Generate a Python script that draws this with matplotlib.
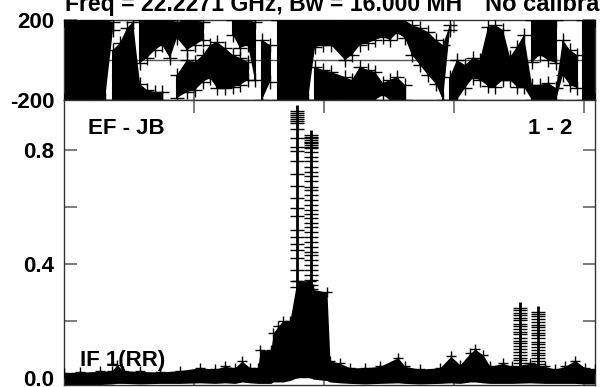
import matplotlib
matplotlib.use('Agg')
import matplotlib.pyplot as plt
import numpy as np

plt.rcParams['font.family'] = ['Liberation Sans', 'DejaVu Sans']
plt.rcParams['font.weight'] = 'bold'

nan = np.nan

# phase panel: channel, top band and second band (degrees), nan = empty
ph_ch = [0, 8.5, 16.2, 23.8, 31.5, 37.7, 43.1, 48.5, 53.1, 58.5,
         63.8, 70, 75.4, 81.5, 86.9, 94.6, 100.8, 106.9, 112.3, 117.7,
         123.8, 130, 135.4, 141.5, 146.9, 152.3, 158.5, 164.6, 170, 176.2,
         181.5, 187.7, 193.1, 199.2, 205.4, 216.2, 221.5, 227.7, 233.8, 239.2,
         245.4, 250.8, 256.2, 262.3, 267.7, 273.8, 280, 286.2, 291.5, 296.9,
         302.3, 308.5, 314.6, 320, 326.2, 331.5, 337.7, 343.1, 348.5, 353.8,
         360, 366.2, 372.3, 378.5, 383.8, 389.2, 394.6, 399.2, 404.6, 408.5]
ph_a_hi = [200, 200, 200, 200, 200, 190, nan, nan, nan, 200,
           200, 200, 200, 200, 190, 200, 200, 190, nan, nan,
           nan, 200, 200, 200, 190, nan, nan, 200, 200, 200,
           200, 200, 200, 200, 200, 200, 200, 200, 200, 200,
           200, 200, 200, 200, 175, 160, 140, 100, 75, 175,
           nan, nan, nan, nan, nan, nan, nan, nan, nan, nan,
           200, 200, 200, 200, nan, nan, nan, 200, 200, 200]
ph_a_lo = [-200, -200, -200, -200, -200, 150, nan, nan, nan, -15,
           10, 50, 75, 10, 110, 50, 75, 100, nan, nan,
           nan, 125, 60, 75, -100, nan, nan, -200, -200, -200,
           -200, -200, 65, 75, 75, 0, 25, 75, 85, 100,
           115, 100, 135, 110, 25, -25, -75, -120, -200, 150,
           nan, nan, nan, nan, nan, nan, nan, nan, nan, nan,
           -10, 25, 0, -15, nan, nan, nan, -200, -200, -200]
ph_b_hi = [nan, nan, nan, nan, nan, 50, 85, 160, 190, -120,
           -150, -160, -160, nan, -75, 0, -10, 25, 75, 90,
           60, 25, 10, -10, nan, 100, 75, nan, nan, nan,
           nan, nan, -35, -50, -60, -85, -100, -35, -50, -60,
           -115, -100, -85, -125, nan, nan, nan, nan, nan, -85,
           0, -25, 10, 0, 165, 175, 150, 15, 65, 125,
           -125, -125, -115, -140, 100, 50, 25, nan, nan, nan]
ph_b_lo = [nan, nan, nan, nan, nan, -200, -200, -200, -200, -200,
           -200, -200, -200, nan, -190, -160, -150, -110, -90, -140,
           -140, -135, -125, -100, nan, -200, -110, nan, nan, nan,
           nan, nan, -200, -200, -200, -200, -200, -200, -200, -200,
           -175, -200, -200, -200, nan, nan, nan, nan, nan, -200,
           -200, -140, -90, -100, -130, -135, -100, -100, -135, -135,
           -200, -200, -200, -200, -75, -125, -140, nan, nan, nan]

# amplitude panel: dense baseline band
am_ch = [0, 12.3, 27.7, 36.9, 40.8, 45.4, 58.5, 73.8, 89.2, 104.6,
         116.2, 123.8, 131.5, 136.9, 143.1, 149.2, 150.8, 159.2, 160.8, 164.6,
         168.5, 173.8, 179.2, 190, 191.5, 202.3, 204.6, 212.3, 220, 231.5,
         243.1, 256.9, 262.3, 273.8, 289.2, 297.7, 304.6, 312.3, 316.2, 322.3,
         327.7, 337.7, 344.6, 358.5, 370, 377.7, 385.4, 393.1, 400.8, 408.5]
am_hi = [0.018, 0.02, 0.022, 0.025, 0.045, 0.025, 0.022, 0.02, 0.025, 0.035,
         0.03, 0.04, 0.035, 0.058, 0.035, 0.035, 0.097, 0.097, 0.156, 0.18,
         0.2, 0.2, 0.34, 0.34, 0.31, 0.30, 0.06, 0.05, 0.035, 0.035,
         0.04, 0.07, 0.04, 0.03, 0.035, 0.075, 0.045, 0.085, 0.1, 0.08,
         0.04, 0.05, 0.04, 0.05, 0.04, 0.03, 0.04, 0.06, 0.035, 0.03]
am_lo = [-0.026, -0.026, -0.024, -0.022, -0.02, -0.02, -0.022, -0.02, -0.02, -0.018,
         -0.02, -0.018, -0.02, -0.015, -0.018, -0.02, -0.02, -0.02, -0.015, -0.015,
         -0.015, -0.01, 0.0, 0.0, -0.005, -0.01, -0.015, -0.018, -0.02, -0.022,
         -0.02, -0.018, -0.02, -0.022, -0.02, -0.018, -0.02, -0.015, -0.015, -0.018,
         -0.02, -0.02, -0.02, -0.018, -0.02, -0.02, -0.02, -0.02, -0.022, -0.022]

# line spikes: channel, error-bar top, and the stacked amplitudes
spk_ch = [179.2, 190, 350.8, 364.6]
spk_top = [0.957, 0.87, 0.267, 0.252]
spk1 = [0.937, 0.930, 0.923, 0.916, 0.909, 0.902, 0.895, 0.872, 0.840, 0.808,
        0.795, 0.760, 0.714, 0.673, 0.629, 0.594, 0.568, 0.518, 0.495, 0.469,
        0.448, 0.421, 0.378, 0.339, 0.319]
spk2 = [0.852, 0.846, 0.840, 0.834, 0.828, 0.822, 0.816, 0.811, 0.805, 0.793,
        0.775, 0.761, 0.740, 0.723, 0.708, 0.691, 0.670, 0.659, 0.641, 0.624,
        0.606, 0.588, 0.574, 0.559, 0.542, 0.530, 0.512, 0.495, 0.477, 0.460,
        0.442, 0.431, 0.413, 0.395, 0.378, 0.360, 0.343, 0.325]
spk3 = [0.243, 0.236, 0.226, 0.219, 0.209, 0.201, 0.19, 0.182, 0.171, 0.16,
        0.152, 0.141, 0.13, 0.121, 0.11, 0.102, 0.091, 0.08, 0.07, 0.061, 0.05]
spk4 = [0.232, 0.224, 0.215, 0.205, 0.197, 0.186, 0.177, 0.168, 0.157, 0.149,
        0.138, 0.127, 0.119, 0.108, 0.098, 0.088, 0.078, 0.068, 0.058, 0.048]

title_left = 'Freq = 22.2271 GHz, Bw = 16.000 MH'
title_right = 'No calibration'

fig = plt.figure(figsize=(6, 3.87), dpi=100)
ax_ph = fig.add_axes([64 / 600, 1 - 100 / 387, 531 / 600, 80 / 387])
ax_am = fig.add_axes([64 / 600, 1 - 385 / 387, 531 / 600, 285 / 387], sharex=ax_ph)

# phase
ax_ph.axhline(0, color='#555555', lw=1, zorder=1)
for hi, lo in [(ph_a_hi, ph_a_lo), (ph_b_hi, ph_b_lo)]:
    ax_ph.fill_between(ph_ch, lo, hi, color='black', lw=0, zorder=2)
    ax_ph.vlines(ph_ch, lo, hi, color='black', lw=1.5, zorder=2)
    ax_ph.plot(ph_ch, hi, '+', color='black', ms=10, mew=1, zorder=3)
    ax_ph.plot(ph_ch, lo, '+', color='black', ms=10, mew=1, zorder=3)
ax_ph.set_ylim(-200, 200)
ax_ph.set_yticks([-200, 200])
ax_ph.set_yticklabels(['-200', '200'])

# amplitude
ax_am.fill_between(am_ch, am_lo, am_hi, color='black', lw=0, zorder=2)
ax_am.plot(am_ch, am_hi, '+', color='black', ms=7, mew=1, zorder=3)
for ch, top, amps in zip(spk_ch, spk_top, [spk1, spk2, spk3, spk4]):
    ax_am.vlines(ch, 0, top, color='black', lw=2, zorder=3)
    ax_am.plot([ch] * len(amps), amps, '_', color='black', ms=10.5, mew=1, zorder=3)
ax_am.set_ylim(-0.0256, 0.9744)
ax_am.set_yticks([0.0, 0.4, 0.8])
ax_am.set_yticklabels(['0.0', '0.4', '0.8'])
ax_am.set_yticks([0.2, 0.6], minor=True)

for ax in (ax_ph, ax_am):
    ax.set_xlim(0, 408.5)
    ax.set_xticks([100, 200, 300, 400])
    ax.tick_params(labelbottom=False)
    ax.tick_params(which='both', direction='in', top=True, right=True,
                   length=9, width=1.2, color='#666666', labelsize=16, pad=7)
    for s in ax.spines.values():
        s.set_color('#333333')
        s.set_linewidth(1)

fig.text(65 / 600, 1 - 11 / 387, title_left, fontsize=16.6, weight='bold', va='baseline')
fig.text(485 / 600, 1 - 11 / 387, title_right, fontsize=17, weight='bold', va='baseline')
fig.text(88 / 600, 1 - 134 / 387, 'EF - JB', fontsize=16, weight='bold', va='baseline')
fig.text(572 / 600, 1 - 134 / 387, '1 - 2', fontsize=16, weight='bold', va='baseline', ha='right')
fig.text(80 / 600, 1 - 366 / 387, 'IF 1(RR)', fontsize=16, weight='bold', va='baseline')

fig.savefig('out.png', dpi=100)
